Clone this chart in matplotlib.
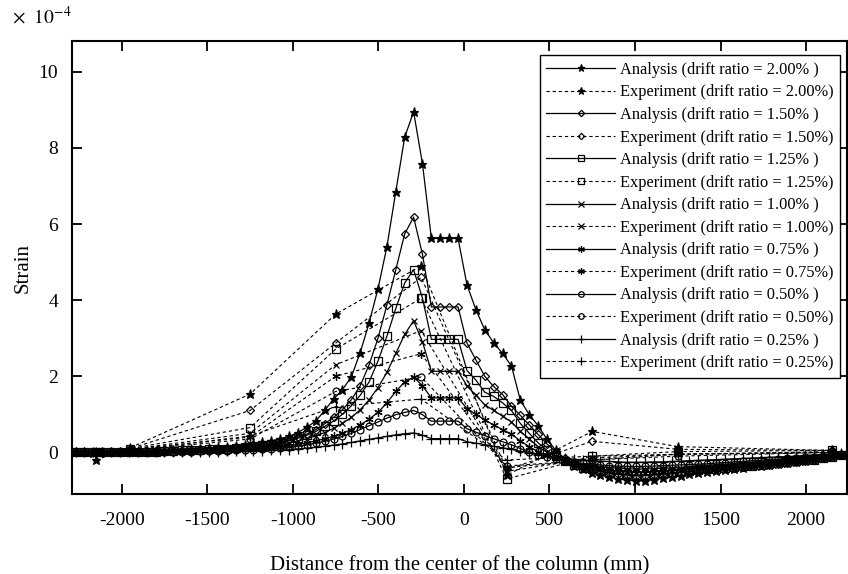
import matplotlib
matplotlib.use('Agg')
import matplotlib.pyplot as plt

plt.rcParams['font.family'] = ['Liberation Serif', 'DejaVu Serif']
plt.rcParams['mathtext.fontset'] = 'stix'
plt.rcParams['axes.unicode_minus'] = False

# analysis nodes (mm)
x_ana = [-2270, -2218, -2166, -2114, -2062, -2010, -1958, -1906, -1854, -1802, -1750, -1698,
         -1646, -1594, -1542, -1490, -1438, -1386, -1334, -1282, -1230, -1178, -1126, -1074,
         -1022, -970, -918, -866, -814, -762, -710, -658, -606, -554, -502, -450, -398, -346,
         -294, -242, -190, -138, -86, -34, 18, 70, 122, 174, 226, 278, 330, 382, 434, 486,
         538, 590, 642, 694,
         746, 798, 850, 902, 954, 1006, 1058, 1110, 1162, 1214, 1266, 1318, 1370, 1422, 1474,
         1526, 1578, 1630, 1682, 1734, 1786, 1838, 1890, 1942, 1994, 2046, 2098, 2150, 2202, 2254]

# strain gauge positions (mm)
x_exp = [-2150, -1950, -1250, -750, -250, 250, 750, 1250, 2150]

ana_200 = [0.0, 0.0, -0.02, 0.0, 0.0, 0.01, 0.02, 0.02, 0.03, 0.04, 0.05, 0.06,
           0.07, 0.08, 0.1, 0.11, 0.13, 0.15, 0.17, 0.19, 0.22, 0.26, 0.3, 0.36,
           0.42, 0.52, 0.66, 0.82, 1.1, 1.4, 1.65, 1.98, 2.62, 3.4, 4.3, 5.4, 6.85, 8.28,
           8.95, 7.58, 5.62, 5.62, 5.62, 5.62, 4.4, 3.75, 3.22, 2.88, 2.6, 2.27, 1.37, 0.99,
           0.7, 0.34, 0.05, -0.2, -0.35, -0.45,
           -0.53, -0.6, -0.65, -0.7, -0.73, -0.75, -0.74, -0.72, -0.68, -0.65, -0.62, -0.58,
           -0.55, -0.52, -0.49, -0.46, -0.43, -0.4, -0.37, -0.35, -0.32, -0.3, -0.27, -0.25,
           -0.22, -0.2, -0.16, -0.12, -0.08, -0.05]
ana_150 = [0.0, 0.0, 0.0, 0.0, 0.0, 0.01, 0.01, 0.02, 0.02, 0.03, 0.04, 0.05,
           0.06, 0.07, 0.08, 0.09, 0.1, 0.12, 0.13, 0.15, 0.17, 0.2, 0.23, 0.27,
           0.32, 0.4, 0.48, 0.6, 0.75, 0.92, 1.12, 1.38, 1.75, 2.3, 3.0, 3.87, 4.8, 5.74,
           6.18, 5.2, 3.82, 3.82, 3.82, 3.82, 2.87, 2.43, 2.0, 1.73, 1.52, 1.21, 0.97, 0.72,
           0.47, 0.22, 0.02, -0.15, -0.28, -0.38,
           -0.45, -0.5, -0.54, -0.58, -0.6, -0.62, -0.61, -0.6, -0.58, -0.56, -0.53, -0.5,
           -0.48, -0.46, -0.44, -0.42, -0.4, -0.38, -0.36, -0.34, -0.32, -0.3, -0.27, -0.25,
           -0.22, -0.2, -0.16, -0.12, -0.08, -0.05]
ana_125 = [0.0, 0.0, 0.0, 0.0, 0.0, 0.01, 0.01, 0.01, 0.02, 0.02, 0.03, 0.04,
           0.05, 0.06, 0.07, 0.08, 0.09, 0.1, 0.12, 0.14, 0.16, 0.19, 0.22, 0.26,
           0.3, 0.37, 0.45, 0.55, 0.68, 0.82, 1.0, 1.22, 1.5, 1.85, 2.4, 3.05, 3.78, 4.45,
           4.8, 4.05, 2.97, 2.97, 2.97, 2.97, 2.15, 1.9, 1.58, 1.47, 1.3, 1.1, 0.76, 0.5,
           0.25, 0.05, -0.1, -0.22, -0.32, -0.4,
           -0.45, -0.5, -0.53, -0.56, -0.58, -0.6, -0.59, -0.58, -0.56, -0.54, -0.52, -0.5,
           -0.47, -0.45, -0.43, -0.41, -0.39, -0.37, -0.35, -0.33, -0.31, -0.29, -0.26, -0.24,
           -0.21, -0.19, -0.15, -0.12, -0.08, -0.05]
ana_100 = [0.0, 0.0, 0.0, 0.0, 0.0, 0.0, 0.01, 0.01, 0.02, 0.02, 0.03, 0.03,
           0.04, 0.05, 0.06, 0.07, 0.08, 0.09, 0.1, 0.11, 0.13, 0.15, 0.18, 0.21,
           0.25, 0.3, 0.36, 0.43, 0.52, 0.63, 0.76, 0.92, 1.12, 1.38, 1.7, 2.1, 2.6, 3.1,
           3.46, 2.9, 2.13, 2.13, 2.13, 2.13, 1.75, 1.5, 1.25, 1.1, 0.95, 0.8, 0.55, 0.35,
           0.15, 0.0, -0.12, -0.22, -0.3, -0.36,
           -0.41, -0.45, -0.48, -0.5, -0.52, -0.53, -0.53, -0.52, -0.5, -0.49, -0.47, -0.45,
           -0.43, -0.41, -0.39, -0.38, -0.36, -0.34, -0.32, -0.3, -0.28, -0.26, -0.24, -0.22,
           -0.2, -0.17, -0.14, -0.1, -0.07, -0.04]
ana_075 = [0.0, 0.0, 0.0, 0.0, 0.0, 0.0, 0.0, 0.01, 0.01, 0.01, 0.02, 0.02,
           0.03, 0.03, 0.04, 0.04, 0.05, 0.06, 0.07, 0.08, 0.09, 0.1, 0.12, 0.14,
           0.17, 0.21, 0.25, 0.3, 0.36, 0.42, 0.5, 0.6, 0.72, 0.87, 1.05, 1.3, 1.6, 1.85,
           1.98, 1.75, 1.43, 1.43, 1.43, 1.43, 1.15, 1.0, 0.85, 0.72, 0.6, 0.48, 0.3, 0.15,
           0.02, -0.08, -0.16, -0.23, -0.28, -0.32,
           -0.35, -0.38, -0.4, -0.42, -0.43, -0.44, -0.44, -0.43, -0.42, -0.41, -0.4, -0.38,
           -0.36, -0.35, -0.33, -0.32, -0.3, -0.29, -0.27, -0.26, -0.24, -0.22, -0.2, -0.18,
           -0.16, -0.14, -0.11, -0.08, -0.05, -0.03]
ana_050 = [0.0, 0.0, 0.0, 0.0, 0.0, 0.0, 0.0, 0.0, 0.01, 0.01, 0.01, 0.01,
           0.02, 0.02, 0.03, 0.03, 0.04, 0.04, 0.05, 0.06, 0.07, 0.08, 0.09, 0.11,
           0.13, 0.16, 0.2, 0.24, 0.29, 0.35, 0.42, 0.5, 0.6, 0.7, 0.8, 0.9, 0.99, 1.05,
           1.1, 0.99, 0.82, 0.82, 0.82, 0.82, 0.62, 0.53, 0.44, 0.36, 0.28, 0.2, 0.1, 0.02,
           -0.06, -0.12, -0.18, -0.22, -0.26, -0.29,
           -0.31, -0.33, -0.35, -0.36, -0.37, -0.37, -0.37, -0.36, -0.35, -0.34, -0.33, -0.32,
           -0.31, -0.3, -0.28, -0.27, -0.25, -0.24, -0.22, -0.21, -0.19, -0.18, -0.16, -0.15,
           -0.13, -0.11, -0.09, -0.06, -0.04, -0.02]
ana_025 = [0.0, 0.0, 0.0, 0.0, 0.0, 0.0, 0.0, 0.0, 0.0, 0.0, 0.01, 0.01,
           0.01, 0.01, 0.02, 0.02, 0.02, 0.03, 0.03, 0.03, 0.04, 0.04, 0.05, 0.06,
           0.07, 0.09, 0.11, 0.13, 0.16, 0.19, 0.22, 0.26, 0.3, 0.34, 0.38, 0.42, 0.46, 0.49,
           0.51, 0.45, 0.36, 0.36, 0.36, 0.36, 0.28, 0.24, 0.2, 0.16, 0.12, 0.08, 0.03, -0.02,
           -0.06, -0.1, -0.13, -0.16, -0.18, -0.2,
           -0.22, -0.23, -0.24, -0.25, -0.26, -0.26, -0.26, -0.25, -0.25, -0.24, -0.23, -0.22,
           -0.21, -0.2, -0.19, -0.18, -0.17, -0.16, -0.15, -0.14, -0.13, -0.12, -0.11, -0.1,
           -0.08, -0.07, -0.05, -0.04, -0.02, -0.01]

exp_200 = [-0.2, 0.12, 1.53, 3.63, 4.9, -0.6, 0.55, 0.15, 0.05]
exp_150 = [0.0, 0.1, 1.1, 2.87, 4.6, -0.45, 0.29, 0.08, 0.05]
exp_125 = [0.0, 0.1, 0.65, 2.71, 4.05, -0.7, -0.1, 0.02, 0.05]
exp_100 = [0.0, 0.08, 0.5, 2.3, 3.2, -0.5, -0.15, -0.05, 0.02]
exp_075 = [0.0, 0.08, 0.4, 2.0, 2.59, -0.4, -0.2, -0.05, 0.0]
exp_050 = [0.0, 0.05, 0.35, 1.6, 1.98, -0.36, -0.2, -0.1, 0.0]
exp_025 = [0.0, 0.05, 0.43, 1.2, 1.4, -0.2, -0.1, -0.05, 0.0]

ratios = ['2.00', '1.50', '1.25', '1.00', '0.75', '0.50', '0.25']
ana_sets = [ana_200, ana_150, ana_125, ana_100, ana_075, ana_050, ana_025]
exp_sets = [exp_200, exp_150, exp_125, exp_100, exp_075, exp_050, exp_025]
markers = ['*', 'D', 's', 'x', (6, 2, 0), 'o', '+']
msizes = [6.5, 4, 5.5, 5, 6, 5, 7]
filled = [True, False, False, True, True, False, True]

fig, ax = plt.subplots(figsize=(8.48, 5.74), dpi=100)
fig.subplots_adjust(left=0.085, right=0.999, bottom=0.139, top=0.928)

for r, a, e, m, ms, f in zip(ratios, ana_sets, exp_sets, markers, msizes, filled):
    fc = 'black' if f else 'none'
    ax.plot(x_ana, a, color='black', lw=0.9, marker=m, ms=ms, mfc=fc, mec='black', mew=0.9,
            label=f'Analysis (drift ratio = {r}% )')
    ax.plot(x_exp, e, color='black', lw=0.8, ls=(0, (3, 2.5)), marker=m, ms=ms, mfc=fc,
            mec='black', mew=0.9, label=f'Experiment (drift ratio = {r}%)')

ax.set_xlim(-2290, 2240)
ax.set_ylim(-1.1, 10.8)
ax.set_xticks([-2000, -1500, -1000, -500, 0, 500, 1000, 1500, 2000])
ax.set_yticks([0, 2, 4, 6, 8, 10])
ax.tick_params(direction='in', top=True, right=True, length=7, width=1.3, labelsize=14)
ax.tick_params(axis='x', pad=13)
ax.tick_params(axis='y', pad=10)
for s in ax.spines.values():
    s.set_linewidth(1.5)

ax.set_xlabel('Distance from the center of the column (mm)', fontsize=15, labelpad=19)
ax.set_ylabel('Strain', fontsize=15, labelpad=4)
fig.text(0.014, 0.958, r'$\times\ \ 10^{-4}$', fontsize=14)

leg = ax.legend(loc='upper right', bbox_to_anchor=(0.991, 0.969), borderaxespad=0,
                fontsize=11.8, handlelength=4.2, handletextpad=0.3, labelspacing=0.4,
                markerscale=0.8, fancybox=False, framealpha=1, edgecolor='black',
                borderpad=0.4)
leg.get_frame().set_linewidth(1.0)

plt.savefig('out.png', dpi=100)
